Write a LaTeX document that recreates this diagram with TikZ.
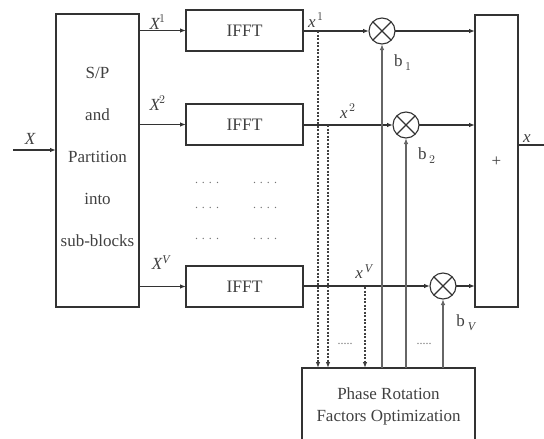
\documentclass[tikz,border=0pt]{standalone}
\usepackage{fontspec}
\setmainfont{Liberation Serif}
\usepackage{unicode-math}
\setmathfont{Latin Modern Math}
\setmathfont[range={it/{Latin,latin}}]{Liberation Serif Italic}
\usetikzlibrary{arrows.meta}
\begin{document}
\begin{tikzpicture}[x=1pt,y=-1pt,
  line width=1.1pt,
  every node/.style={inner sep=0pt, outer sep=0pt, text=black!75},
  blk/.style={draw=black!80, rectangle, font=\fontsize{17.5}{20}\selectfont},
  mult/.style={draw=black!80, circle, minimum size=26pt,
    path picture={\draw[black!80,line width=1.1pt]
      (path picture bounding box.north west) -- (path picture bounding box.south east)
      (path picture bounding box.north east) -- (path picture bounding box.south west);}},
  lab/.style={font=\fontsize{17}{20}\selectfont},
  dotsl/.style={font=\fontsize{12}{14}\selectfont, text=black!55},
  conn/.style={draw=black!80, -{Latex[length=6pt,width=4.5pt]}},
  ctrl/.style={draw=black!60, line width=1.6pt, -{Latex[length=6pt,width=4.5pt]}},
  tap/.style={draw=black!75, dash pattern=on 2pt off 1.5pt, -{Latex[length=6pt,width=4.5pt]}},
]
\useasboundingbox (0,0) rectangle (544,439);

% blocks
\node[blk, minimum width=83pt, minimum height=293pt] (sp) at (97.5,160.5) {};
\node[font=\fontsize{17}{42}\selectfont, align=center, text=black!75] (sptxt) at (97.5,157) {S/P\\and\\Partition\\into\\sub-blocks};
\node[blk, minimum width=117pt, minimum height=41pt] (f1) at (244.5,30.5) {IFFT};
\node[blk, minimum width=117pt, minimum height=41pt] (f2) at (244.5,124.5) {IFFT};
\node[blk, minimum width=117pt, minimum height=41pt] (fv) at (244.5,286.5) {IFFT};
\node[blk, minimum width=43pt, minimum height=292pt] (pl) at (496.5,161) {};
\node[lab] (plus) at (496.5,162) {+};
\node[blk, minimum width=173pt, minimum height=77pt, align=center,
  font=\fontsize{17}{22}\selectfont] (opt) at (388.5,406.5) {Phase Rotation\\Factors Optimization};

\node[mult] (m1) at (382,31) {};
\node[mult] (m2) at (406,125) {};
\node[mult] (mv) at (443,286) {};

% input / output
\coordinate (in) at (13,150);
\draw[conn] (in) -- (in -| sp.west);
\node[lab] (lx) at (30,139) {$X$};
\coordinate (out) at (544,145);
\draw[draw=black!80] (out -| pl.east) -- (out);
\node[lab] (lxo) at (527,139) {$x$};

% sp -> ifft
\draw[conn] (f1.west -| sp.east) -- (f1.west);
\draw[conn] (f2.west -| sp.east) -- (f2.west);
\draw[conn] (fv.west -| sp.east) -- (fv.west);
\node[lab] (lX1) at (158,22) {$X^{1}$};
\node[lab] (lX2) at (158,103) {$X^{2}$};
\node[lab] (lXV) at (161,263) {$X^{V}$};

% ifft -> mult -> plus
\draw[conn] (f1.east |- m1) -- (m1.west);
\draw[conn] (f2.east |- m2) -- (m2.west);
\draw[conn] (fv.east |- mv) -- (mv.west);
\draw[conn] (m1.east) -- (m1 -| pl.west);
\draw[conn] (m2.east) -- (m2 -| pl.west);
\draw[conn] (mv.east) -- (mv -| pl.west);
\node[lab] (lx1) at (316,20) {$x^{\,1}$};
\node[lab] (lx2) at (348,111) {$x^{\,2}$};
\node[lab] (lxv) at (364,272) {$x^{\,V}$};

% taps (dashed) to opt
\coordinate (t1) at (318,31);
\coordinate (t2) at (328,125);
\coordinate (tv) at (365,287);
\draw[tap] (t1) -- (t1 |- opt.north);
\draw[tap] (t2) -- (t2 |- opt.north);
\draw[tap] (tv) -- (tv |- opt.north);

% control lines
\draw[ctrl] (m1 |- opt.north) -- (m1.south);
\draw[ctrl] (m2 |- opt.north) -- (m2.south);
\draw[ctrl] (mv |- opt.north) -- (mv.south);
\node[lab] (lb1) at (403,63) {b\,$_1$};
\node[lab] (lb2) at (427,156) {b\,$_2$};
\node[lab] (lbv) at (466,323) {b\,$_V$};

% dots
\node[dotsl] (d1) at (345,344) {.....};
\node[dotsl] (d2) at (424,344) {.....};
\node[dotsl] (d3) at (207,183) {. . . .};
\node[dotsl] (d4) at (265,183) {. . . .};
\node[dotsl] (d5) at (207,208) {. . . .};
\node[dotsl] (d6) at (265,208) {. . . .};
\node[dotsl] (d7) at (207,239) {. . . .};
\node[dotsl] (d8) at (265,239) {. . . .};
\end{tikzpicture}
\end{document}
